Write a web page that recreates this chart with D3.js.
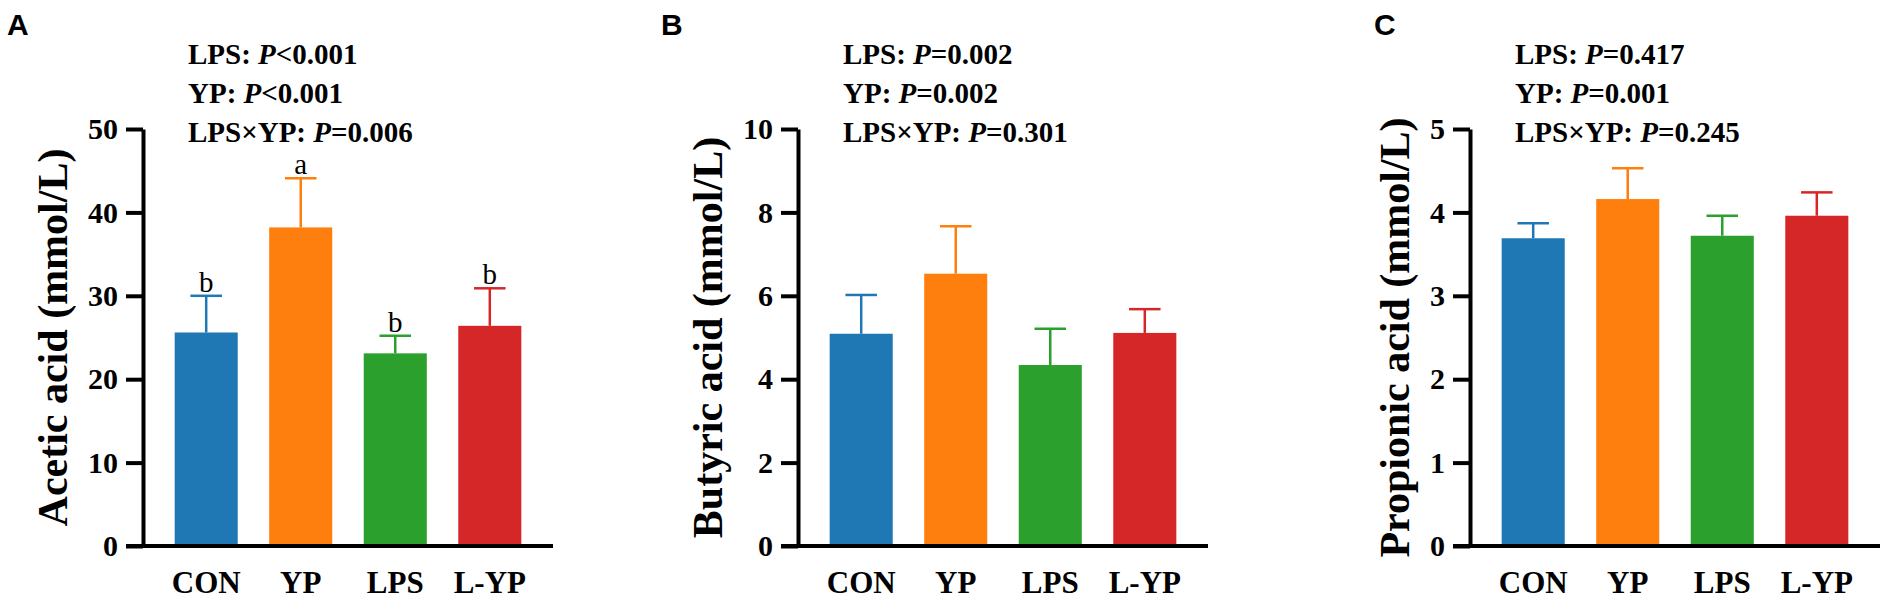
<!DOCTYPE html>
<html>
<head>
<meta charset="utf-8">
<script src="https://cdn.jsdelivr.net/npm/d3@7"></script>
<style>
  body { margin: 0; background: #fff; }
  svg { display: block; }
</style>
</head>
<body>
<script>
// groups and colours
const groups = ["CON", "YP", "LPS", "L-YP"];
const colors = ["#1f77b4", "#ff7f0e", "#2ca02c", "#d62728"];

// A - acetic acid
const aceticMean = [25.6, 38.2, 23.1, 26.4];
const aceticErr = [4.4, 5.9, 2.1, 4.5];
const aceticLetters = ["b", "a", "b", "b"];
const aceticTicks = [0, 10, 20, 30, 40, 50];
const aceticStats = [["LPS: ", "<0.001"], ["YP: ", "<0.001"], ["LPS\u00d7YP: ", "=0.006"]];

// B - butyric acid
const butyricMean = [5.09, 6.53, 4.34, 5.11];
const butyricErr = [0.93, 1.14, 0.87, 0.57];
const butyricTicks = [0, 2, 4, 6, 8, 10];
const butyricStats = [["LPS: ", "=0.002"], ["YP: ", "=0.002"], ["LPS\u00d7YP: ", "=0.301"]];

// C - propionic acid
const propionicMean = [3.69, 4.16, 3.72, 3.96];
const propionicErr = [0.18, 0.37, 0.24, 0.28];
const propionicTicks = [0, 1, 2, 3, 4, 5];
const propionicStats = [["LPS: ", "=0.417"], ["YP: ", "=0.001"], ["LPS\u00d7YP: ", "=0.245"]];

const width = 1902;
const height = 603;
const serif = "'Liberation Serif', 'Times New Roman', serif";

const svg = d3.select("body").append("svg")
  .attr("width", width)
  .attr("height", height);

const panels = [
  { tag: "A", x0: 143, mean: aceticMean, err: aceticErr, letters: aceticLetters,
    ticks: aceticTicks, stats: aceticStats, title: "Acetic acid (mmol/L)" },
  { tag: "B", x0: 798, mean: butyricMean, err: butyricErr, letters: null,
    ticks: butyricTicks, stats: butyricStats, title: "Butyric acid (mmol/L)" },
  { tag: "C", x0: 1470, mean: propionicMean, err: propionicErr, letters: null,
    ticks: propionicTicks, stats: propionicStats, title: "Propionic acid (mmol/L)" }
];

const yTop = 129, yBottom = 546, axisLen = 410;

panels.forEach(function(p) {
  const g = svg.append("g").attr("transform", "translate(" + p.x0 + ",0)");

  const x = d3.scaleBand()
    .domain(groups)
    .range([0, axisLen])
    .paddingInner(0.333)
    .paddingOuter(0.335);

  const y = d3.scaleLinear()
    .domain([0, d3.max(p.ticks)])
    .range([yBottom, yTop]);

  // bars
  g.selectAll("rect.bar")
    .data(groups)
    .enter().append("rect")
    .attr("class", "bar")
    .attr("x", d => x(d))
    .attr("width", x.bandwidth())
    .attr("y", (d, i) => y(p.mean[i]))
    .attr("height", (d, i) => y(0) - y(p.mean[i]))
    .attr("fill", (d, i) => colors[i]);

  // error bars (upper only)
  const capW = x.bandwidth() / 2;
  groups.forEach(function(d, i) {
    const cx = x(d) + x.bandwidth() / 2;
    const top = y(p.mean[i] + p.err[i]);
    g.append("line")
      .attr("x1", cx).attr("x2", cx)
      .attr("y1", y(p.mean[i])).attr("y2", top)
      .attr("stroke", colors[i]).attr("stroke-width", 2.5);
    g.append("line")
      .attr("x1", cx - capW / 2).attr("x2", cx + capW / 2)
      .attr("y1", top).attr("y2", top)
      .attr("stroke", colors[i]).attr("stroke-width", 2.5);
    if (p.letters) {
      g.append("text")
        .attr("x", cx)
        .attr("y", top - 4)
        .attr("text-anchor", "middle")
        .style("font-family", serif)
        .style("font-size", "29px")
        .text(p.letters[i]);
    }
  });

  // y axis
  const yAxis = g.append("g")
    .call(d3.axisLeft(y).tickValues(p.ticks).tickFormat(d3.format("d"))
      .tickSize(17).tickPadding(8).tickSizeOuter(0));
  yAxis.select(".domain").attr("stroke", "#000").attr("stroke-width", 4);
  yAxis.selectAll(".tick line").attr("stroke", "#000").attr("stroke-width", 4);
  yAxis.selectAll(".tick text")
    .style("font-family", serif)
    .style("font-weight", "bold")
    .style("font-size", "30px")
    .attr("fill", "#000");

  // x axis line (baseline)
  g.append("line")
    .attr("x1", -17).attr("x2", axisLen)
    .attr("y1", y(0)).attr("y2", y(0))
    .attr("stroke", "#000").attr("stroke-width", 4);

  // category labels
  g.selectAll("text.cat")
    .data(groups)
    .enter().append("text")
    .attr("class", "cat")
    .attr("x", d => x(d) + x.bandwidth() / 2)
    .attr("y", 593)
    .attr("text-anchor", "middle")
    .style("font-family", serif)
    .style("font-weight", "bold")
    .style("font-size", "31px")
    .text(d => d);

  // y axis title, placed just left of the tick labels
  const bb = yAxis.node().getBBox();
  g.append("text")
    .attr("transform", "translate(" + (bb.x - 21) + "," + ((yTop + yBottom) / 2) + ") rotate(-90)")
    .attr("text-anchor", "middle")
    .style("font-family", serif)
    .style("font-weight", "bold")
    .style("font-size", "42px")
    .text(p.title);

  // statistics
  p.stats.forEach(function(s, i) {
    const t = g.append("text")
      .attr("x", 45)
      .attr("y", 64 + i * 39)
      .style("font-family", serif)
      .style("font-weight", "bold")
      .style("font-size", "29px");
    t.append("tspan").text(s[0]);
    t.append("tspan").style("font-style", "italic").text("P");
    t.append("tspan").text(s[1]);
  });
});

// panel letters
const tagX = [7, 661, 1374];
panels.forEach(function(p, i) {
  svg.append("text")
    .attr("x", tagX[i])
    .attr("y", 35)
    .style("font-family", "'Liberation Sans', Arial, sans-serif")
    .style("font-weight", "bold")
    .style("font-size", "30px")
    .text(p.tag);
});
</script>
</body>
</html>
